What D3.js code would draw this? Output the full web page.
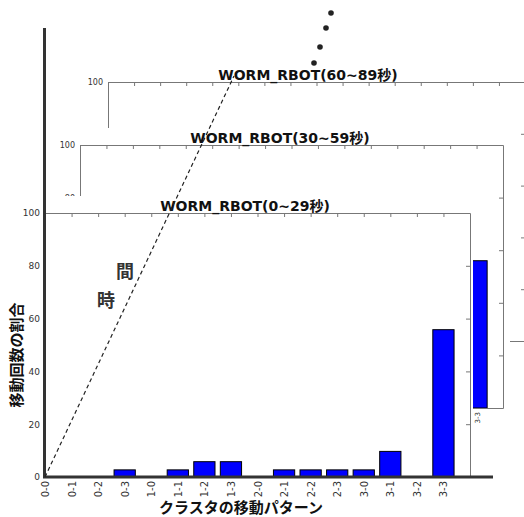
<!DOCTYPE html>
<meta charset="utf-8">
<script src="https://d3js.org/d3.v7.min.js"></script>
<style>
body { margin: 0; background: #fff; }
svg { display: block; }
.tick text { fill: #333; font-family: "DejaVu Sans", sans-serif; }
.frame path.domain, .frame .tick line { stroke: #777; stroke-width: 1; }
.jp { font-family: "Noto Sans CJK JP", sans-serif; font-weight: bold; }
</style>
<div id="chart"></div>
<script>

// categories (cluster move patterns) and y ticks
var categories = ["0-0","0-1","0-2","0-3","1-0","1-1","1-2","1-3",
                  "2-0","2-1","2-2","2-3","3-0","3-1","3-2","3-3"];
var yTicks = [0, 20, 40, 60, 80, 100];

// ratio of moves (%) per pattern
var values0to29  = [0, 0, 0, 2.7, 0, 2.7, 5.8, 5.8, 0, 2.7, 2.7, 2.7, 2.7, 9.7, 0, 55.8];
// only the last bar of the middle panel is visible, the rest is hidden behind the front panel
var values30to59 = [null, null, null, null, null, null, null, null,
                    null, null, null, null, null, null, null, 56];
// back panel: no bar is visible
var values60to89 = [null, null, null, null, null, null, null, null,
                    null, null, null, null, null, null, null, null];

var W = 524, H = 517;

var svg = d3.select("#chart").append("svg")
    .attr("width", W)
    .attr("height", H);

// three panels, back to front, each offset up-right from the previous one
var panels = [
  {title: "WORM_RBOT(60~89秒)", values: values60to89, left: 108, right: 525, top: 82,  bottom: 341, font: 8, xfont: 7, cover: null},
  {title: "WORM_RBOT(30~59秒)", values: values30to59, left: 80,  right: 503, top: 145, bottom: 408, font: 8, xfont: 7, cover: {x: 0, y: 128, w: 510}},
  {title: "WORM_RBOT(0~29秒)",  values: values0to29,  left: 45,  right: 470, top: 213, bottom: 477, font: 9, xfont: 10, cover: {x: 0, y: 196, w: 473}}
];

panels.forEach(function(p, k) {

  // white figure background that hides the panel behind it
  if (p.cover) {
    svg.append("rect")
      .attr("x", p.cover.x).attr("y", p.cover.y)
      .attr("width", p.cover.w).attr("height", H - p.cover.y)
      .attr("fill", "#fff");
  }

  var x = d3.scaleLinear().domain([0, 16]).range([p.left, p.right]);
  var y = d3.scaleLinear().domain([0, 100]).range([p.bottom, p.top]);
  var bw = (x(1) - x(0)) * 0.8;

  var g = svg.append("g").attr("class", "frame");

  // bars
  g.selectAll("rect.bar")
    .data(p.values.map(function(v, i) { return {i: i, v: v}; }).filter(function(d) { return d.v !== null; }))
    .enter().append("rect")
      .attr("class", "bar")
      .attr("x", function(d) { return x(d.i) - bw / 2; })
      .attr("y", function(d) { return y(d.v); })
      .attr("width", bw)
      .attr("height", function(d) { return y(0) - y(d.v); })
      .attr("fill", "#0000ff")
      .attr("stroke", "#000")
      .attr("stroke-width", 1);

  // top frame with small ticks pointing down
  g.append("g")
    .attr("transform", "translate(0," + p.top + ")")
    .call(d3.axisBottom(x).tickValues(d3.range(16)).tickSize(4).tickSizeOuter(0).tickFormat(""));

  // right frame with ticks pointing in
  g.append("g")
    .attr("transform", "translate(" + p.right + ",0)")
    .call(d3.axisLeft(y).tickValues([20, 40, 60, 80]).tickSize(4).tickSizeOuter(0).tickFormat(""));

  // left axis with labels
  var ly = g.append("g")
    .attr("transform", "translate(" + p.left + ",0)")
    .call(d3.axisLeft(y).tickValues(yTicks).tickSize(0).tickSizeOuter(0).tickPadding(5));
  ly.selectAll("text").style("font-size", p.font + "px");

  // bottom axis with rotated category labels
  var bx = g.append("g")
    .attr("transform", "translate(0," + p.bottom + ")")
    .call(d3.axisBottom(x).tickValues(d3.range(16)).tickSize(0).tickSizeOuter(0)
      .tickFormat(function(i) { return categories[i]; }));
  bx.selectAll("text")
    .style("font-size", p.xfont + "px")
    .attr("transform", "rotate(-90)")
    .attr("text-anchor", "end")
    .attr("x", -4)
    .attr("y", 0)
    .attr("dy", "0.35em");

  // panel title
  svg.append("text")
    .attr("x", p.left + 200)
    .attr("y", p.top - 2)
    .attr("text-anchor", "middle")
    .style("font-family", "'DejaVu Sans', 'Noto Sans CJK JP', sans-serif")
    .style("font-weight", "bold")
    .style("font-size", "14px")
    .attr("fill", "#111")
    .text(p.title);
});

// thick pseudo-3D axes of the front panel
svg.append("line")
  .attr("x1", 44.5).attr("y1", 28).attr("x2", 44.5).attr("y2", 478)
  .attr("stroke", "#333").attr("stroke-width", 3);
svg.append("line")
  .attr("x1", 43).attr("y1", 477).attr("x2", 493).attr("y2", 477)
  .attr("stroke", "#333").attr("stroke-width", 3);

// dashed time axis going to the back
svg.append("line")
  .attr("x1", 45).attr("y1", 477).attr("x2", 234).attr("y2", 76)
  .attr("stroke", "#222").attr("stroke-width", 1.2)
  .attr("stroke-dasharray", "4,3");

// dots: "and so on" further back in time
var dots = [[314, 63], [320, 47], [326, 28], [331, 13]];
svg.selectAll("circle.dot")
  .data(dots)
  .enter().append("circle")
    .attr("cx", function(d) { return d[0]; })
    .attr("cy", function(d) { return d[1]; })
    .attr("r", 2.8)
    .attr("fill", "#222");

// 時間 label along the time axis
svg.append("text").attr("class", "jp")
  .attr("x", 125).attr("y", 278)
  .attr("text-anchor", "middle")
  .style("font-size", "18px").attr("fill", "#333")
  .text("間");
svg.append("text").attr("class", "jp")
  .attr("x", 106).attr("y", 307)
  .attr("text-anchor", "middle")
  .style("font-size", "18px").attr("fill", "#333")
  .text("時");

// axis titles
svg.append("text").attr("class", "jp")
  .attr("transform", "translate(22,355) rotate(-90)")
  .attr("text-anchor", "middle")
  .style("font-size", "15px").attr("fill", "#111")
  .text("移動回数の割合");
svg.append("text").attr("class", "jp")
  .attr("x", 241).attr("y", 513)
  .attr("text-anchor", "middle")
  .style("font-size", "15px").attr("fill", "#111")
  .text("クラスタの移動パターン");

</script>
